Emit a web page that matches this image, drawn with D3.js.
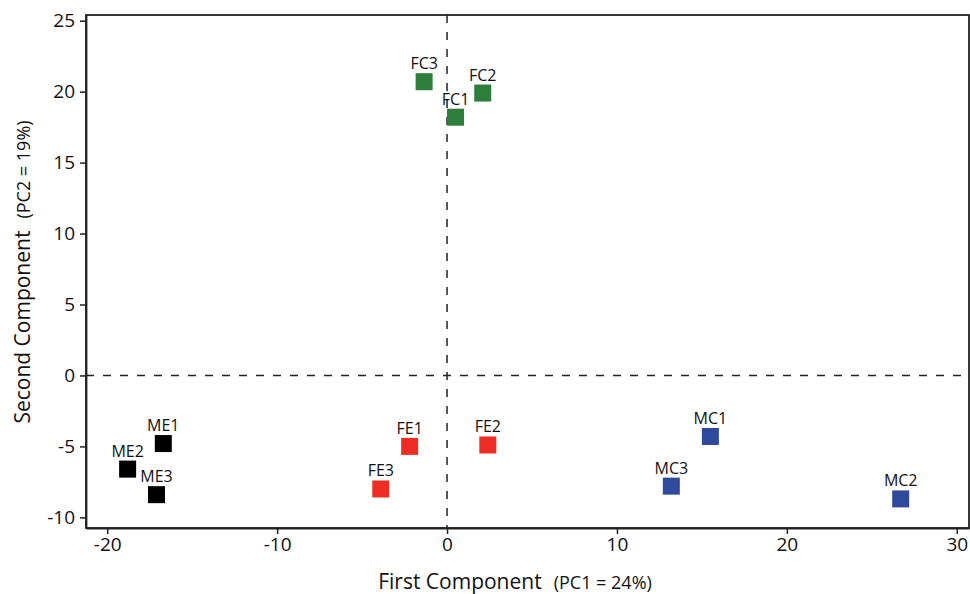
<!DOCTYPE html>
<html>
<head>
<meta charset="utf-8">
<script src="https://cdn.jsdelivr.net/npm/d3@7"></script>
<style>
  body { margin: 0; background: #fff; }
  svg text { font-family: "Open Sans", "Noto Sans", sans-serif; fill: #111; }
</style>
</head>
<body>
<svg id="chart" width="970" height="594"></svg>
<script>
// sample names, groups and PC scores
const samples = ["ME1", "ME2", "ME3", "FE1", "FE2", "FE3", "FC1", "FC2", "FC3", "MC1", "MC2", "MC3"];
const groups  = ["ME", "ME", "ME", "FE", "FE", "FE", "FC", "FC", "FC", "MC", "MC", "MC"];
const pc1 = [-16.7, -18.8, -17.1, -2.2, 2.4, -3.9, 0.5, 2.1, -1.35, 15.5, 26.7, 13.2];
const pc2 = [-4.8, -6.6, -8.4, -5.0, -4.9, -8.0, 18.2, 19.9, 20.7, -4.3, -8.7, -7.8];

const groupNames  = ["ME", "FE", "FC", "MC"];
const groupColors = ["#000000", "#ee2e24", "#2f7d3b", "#2f4a9c"];

const xTicks = [-20, -10, 0, 10, 20, 30];
const yTicks = [-10, -5, 0, 5, 10, 15, 20, 25];

const svg = d3.select("#chart");
const plotL = 86, plotR = 969, plotT = 15, plotB = 528;

const x = d3.scaleLinear().domain([-21.25, 30.72]).range([plotL, plotR]);
const y = d3.scaleLinear().domain([-10.75, 25.4]).range([plotB, plotT]);
const color = d3.scaleOrdinal().domain(groupNames).range(groupColors);

// box
svg.append("rect")
  .attr("x", plotL).attr("y", plotT)
  .attr("width", plotR - plotL).attr("height", plotB - plotT)
  .attr("fill", "none").attr("stroke", "#222").attr("stroke-width", 1.8);

// axes
const fmt = function(d){ return String(d); }; // plain hyphen minus like the original
const xAxis = svg.append("g")
  .attr("transform", "translate(0," + plotB + ")")
  .call(d3.axisBottom(x).tickValues(xTicks).tickFormat(fmt).tickSize(6).tickSizeOuter(0).tickPadding(4));
const yAxis = svg.append("g")
  .attr("transform", "translate(" + plotL + ",0)")
  .call(d3.axisLeft(y).tickValues(yTicks).tickFormat(fmt).tickSize(6).tickSizeOuter(0).tickPadding(5));

[xAxis, yAxis].forEach(function(a){
  a.select(".domain").attr("stroke", "#222").attr("stroke-width", 1.8);
  a.selectAll(".tick line").attr("stroke", "#222").attr("stroke-width", 1.5);
  a.selectAll(".tick text").attr("font-size", 19).attr("fill", "#111")
    .attr("font-family", '"Open Sans", "Noto Sans", sans-serif');
});

// zero lines
svg.append("line")
  .attr("x1", plotL).attr("x2", plotR)
  .attr("y1", y(0)).attr("y2", y(0))
  .attr("stroke", "#222").attr("stroke-width", 1.5).attr("stroke-dasharray", "8,9");
svg.append("line")
  .attr("x1", x(0)).attr("x2", x(0))
  .attr("y1", plotT).attr("y2", plotB)
  .attr("stroke", "#222").attr("stroke-width", 1.5).attr("stroke-dasharray", "8,9");

// points
const sq = 17;
const pts = svg.append("g").selectAll("g")
  .data(samples.map(function(s, i){ return {name: s, group: groups[i], x: pc1[i], y: pc2[i]}; }))
  .enter().append("g")
  .attr("transform", function(d){ return "translate(" + x(d.x) + "," + y(d.y) + ")"; });

pts.append("rect")
  .attr("x", -sq/2).attr("y", -sq/2)
  .attr("width", sq).attr("height", sq)
  .attr("fill", function(d){ return color(d.group); });

pts.append("text")
  .attr("x", 0).attr("y", -sq/2 - 4)
  .attr("text-anchor", "middle")
  .attr("font-size", 16)
  .text(function(d){ return d.name; });

// axis titles
const xt = svg.append("text")
  .attr("x", 515).attr("y", 589)
  .attr("text-anchor", "middle");
xt.append("tspan").attr("font-size", 21).text("First Component");
xt.append("tspan").attr("font-size", 18).attr("dx", 12).text("(PC1 = 24%)");

const yt = svg.append("text")
  .attr("transform", "translate(30,272) rotate(-90)")
  .attr("text-anchor", "middle");
yt.append("tspan").attr("font-size", 21).text("Second Component");
yt.append("tspan").attr("font-size", 18).attr("dx", 12).text("(PC2 = 19%)");
</script>
</body>
</html>
